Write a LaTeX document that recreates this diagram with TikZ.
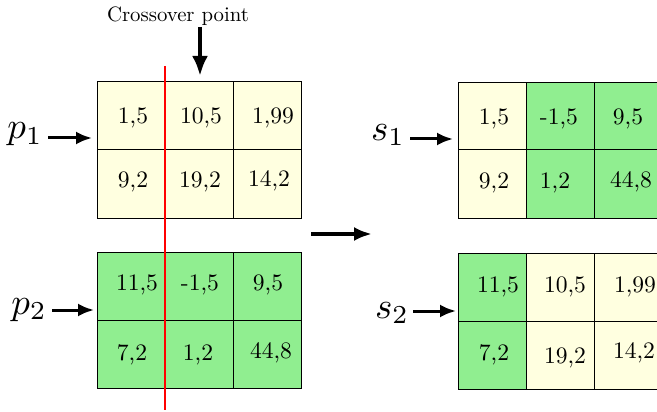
\documentclass[tikz,border=0pt]{standalone}
\usetikzlibrary{arrows.meta}
\definecolor{cyel}{HTML}{FFFFE0}
\definecolor{cgrn}{HTML}{90EE90}
\begin{document}
\begin{tikzpicture}[x=1pt,y=-1pt,
  cellY/.style={draw=black, line width=1pt, fill=cyel},
  cellG/.style={draw=black, line width=1pt, fill=cgrn},
  val/.style={font=\normalsize, scale=2.36, inner sep=0pt},
  lab/.style={font=\normalsize, scale=3.7, inner sep=0pt, anchor=base},
  arr/.style={line width=3pt, -{Latex[length=16pt,width=13pt]}},
  bigarr/.style={line width=4pt, -{Latex[length=18pt,width=14pt]}}]
\useasboundingbox (0,0) rectangle (657,412);
\foreach \x/\y/\c in {97/82/cellY,165/82/cellY,233/82/cellY,97/150/cellY,165/150/cellY,233/150/cellY,
                      97/252/cellG,165/252/cellG,233/252/cellG,97/320/cellG,165/320/cellG,233/320/cellG,
                      458/83/cellY,526/83/cellG,594/83/cellG,458/150/cellY,526/150/cellG,594/150/cellG,
                      458/253/cellG,526/253/cellY,594/253/cellY,458/321/cellG,526/321/cellY,594/321/cellY}
  \draw[\c] (\x,\y) rectangle ++(68,68);
% p1 values
\node[val] (a1) at (133,118) {1,5};
\node[val] (a2) at (201,118) {10,5};
\node[val] (a3) at (273,118) {1,99};
\node[val] (a4) at (133,182) {9,2};
\node[val] (a5) at (200,182) {19,2};
\node[val] (a6) at (269,181) {14,2};
% p2 values
\node[val] (b1) at (137,285) {11,5};
\node[val] (b2) at (200,285) {-1,5};
\node[val] (b3) at (268,285) {9,5};
\node[val] (b4) at (132,355) {7,2};
\node[val] (b5) at (198,355) {1,2};
\node[val] (b6) at (271,353) {44,8};
% s1 values
\node[val] (c1) at (494,119) {1,5};
\node[val] (c2) at (559,119) {-1,5};
\node[val] (c3) at (628,119) {9,5};
\node[val] (c4) at (494,183) {9,2};
\node[val] (c5) at (555,183) {1,2};
\node[val] (c6) at (631,182) {44,8};
% s2 values
\node[val] (d1) at (498,287) {11,5};
\node[val] (d2) at (565,287) {10,5};
\node[val] (d3) at (635,287) {1,99};
\node[val] (d4) at (494,355) {7,2};
\node[val] (d5) at (565,358) {19,2};
\node[val] (d6) at (634,353) {14,2};
% red crossover line
\coordinate (rt) at (165,66);
\coordinate (rb) at (165,410);
\draw[red, line width=2.7pt] (rt) -- (rb);
% crossover label and arrow
\node[font=\normalsize, scale=2.08, inner sep=0pt, anchor=base] (cp) at (178,22) {Crossover point};
\coordinate (cpa) at (200,27);
\coordinate (cpb) at (200,76);
\draw[line width=4.5pt, -{Latex[length=20pt,width=16pt]}] (cpa) -- (cpb);
% labels
\node[lab] (p1) at (25,139) {$p_1$};
\node[lab] (p2) at (29,314) {$p_2$};
\node[lab] (s1) at (388,140) {$s_1$};
\node[lab] (s2) at (392,318) {$s_2$};
\coordinate (p1a) at (48,138); \coordinate (p1b) at (92,138);
\coordinate (p2a) at (52,310); \coordinate (p2b) at (94,310);
\coordinate (s1a) at (410,139); \coordinate (s1b) at (453,139);
\coordinate (s2a) at (413,311); \coordinate (s2b) at (456,311);
\draw[arr] (p1a) -- (p1b);
\draw[arr] (p2a) -- (p2b);
\draw[arr] (s1a) -- (s1b);
\draw[arr] (s2a) -- (s2b);
% middle arrow
\coordinate (ma) at (311,234); \coordinate (mb) at (372,234);
\draw[bigarr] (ma) -- (mb);
\end{tikzpicture}
\end{document}
